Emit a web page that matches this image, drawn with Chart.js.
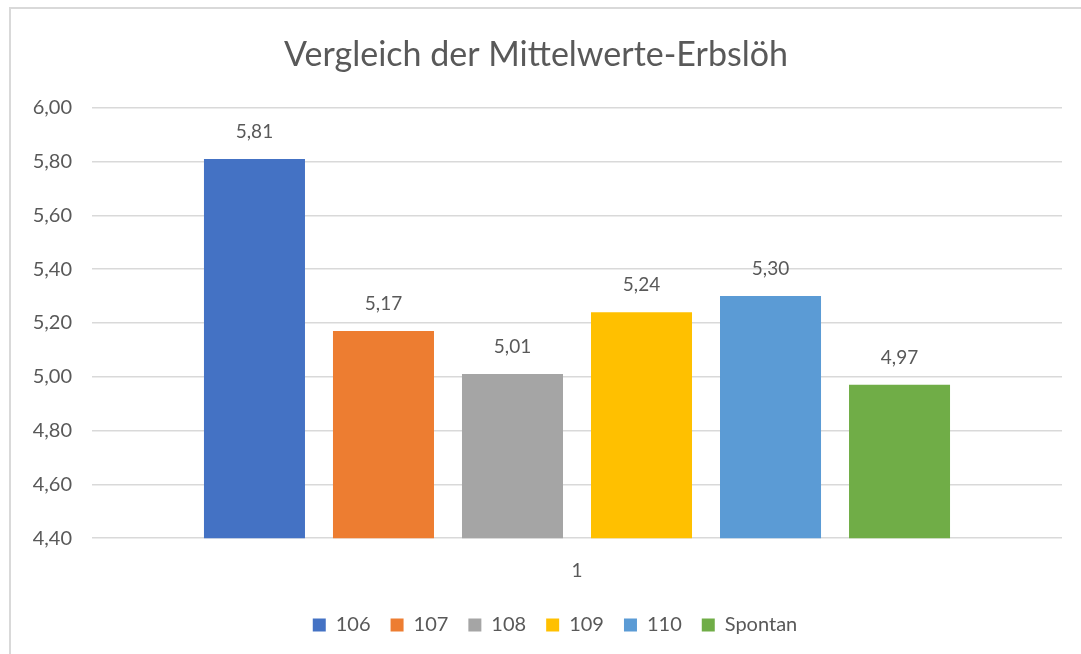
<!DOCTYPE html>
<html>
<head>
<meta charset="utf-8">
<script src="https://cdn.jsdelivr.net/npm/chart.js@4/dist/chart.umd.min.js"></script>
<style>
  body { margin: 0; background: #fff; overflow: hidden; }
  #frame { position: absolute; left: 9px; top: 7px; width: 1100px; height: 700px; border: 2px solid #d9d9d9; box-sizing: border-box; }
  #wrap { position: absolute; left: 0; top: 0; width: 1081px; height: 654px; }
</style>
</head>
<body>
<div id="frame"></div>
<div id="wrap"><canvas id="chart"></canvas></div>
<script>
// Daten
const categories = ['1'];
const seriesNames = ['106', '107', '108', '109', '110', 'Spontan'];
const seriesValues = [5.81, 5.17, 5.01, 5.24, 5.30, 4.97];
const seriesColors = ['#4472C4', '#ED7D31', '#A5A5A5', '#FFC000', '#5B9BD5', '#70AD47'];
const yTicks = [4.40, 4.60, 4.80, 5.00, 5.20, 5.40, 5.60, 5.80, 6.00];

const fontFamily = 'Lato, "Open Sans", sans-serif';
const textColor = '#595959';
const fmt = v => Number(v).toFixed(2).replace('.', ',');

// Werte über den Balken
const valueLabels = {
    id: 'valueLabels',
    afterDatasetsDraw(chart) {
        const ctx = chart.ctx;
        ctx.save();
        ctx.font = '19px ' + fontFamily;
        ctx.fillStyle = textColor;
        ctx.textAlign = 'center';
        ctx.textBaseline = 'middle';
        chart.data.datasets.forEach((ds, i) => {
            const bar = chart.getDatasetMeta(i).data[0];
            ctx.fillText(fmt(ds.data[0]), bar.x, bar.y - 27);
        });
        ctx.restore();
    }
};

// Legende etwas nach rechts, wie im Original
const legendShift = {
    id: 'legendShift',
    afterLayout(chart) {
        chart.legend.left += 19;
        chart.legend.right += 19;
    }
};

new Chart(document.getElementById('chart').getContext('2d'), {
    type: 'bar',
    data: {
        labels: categories,
        datasets: seriesNames.map((name, i) => ({
            label: name,
            data: [seriesValues[i]],
            backgroundColor: seriesColors[i],
            categoryPercentage: 0.798,
            barPercentage: 0.783
        }))
    },
    options: {
        responsive: true,
        maintainAspectRatio: false,
        animation: false,
        layout: { padding: { left: 10, right: 19, top: 35, bottom: 9 } },
        plugins: {
            title: {
                display: true,
                text: 'Vergleich der Mittelwerte-Erbslöh',
                color: textColor,
                font: { family: fontFamily, size: 34, weight: 'normal' },
                padding: { top: 0, bottom: 32 }
            },
            legend: {
                position: 'bottom',
                labels: {
                    color: textColor,
                    font: { family: fontFamily, size: 20 },
                    boxWidth: 13,
                    boxHeight: 13,
                    padding: 20
                }
            },
            tooltip: { enabled: false }
        },
        scales: {
            x: {
                grid: { display: false },
                border: { display: false },
                ticks: { color: textColor, font: { family: fontFamily, size: 19 }, padding: 13 }
            },
            y: {
                min: 4.4,
                max: 6.0,
                afterBuildTicks: axis => { axis.ticks = yTicks.map(v => ({ value: v })); },
                afterFit: axis => { axis.width = 82; },
                grid: { color: '#d9d9d9', lineWidth: 1.5, drawTicks: false },
                border: { display: false },
                ticks: {
                    color: textColor,
                    font: { family: fontFamily, size: 20 },
                    padding: 20,
                    callback: v => fmt(v)
                }
            }
        }
    },
    plugins: [valueLabels, legendShift]
});
</script>
</body>
</html>
